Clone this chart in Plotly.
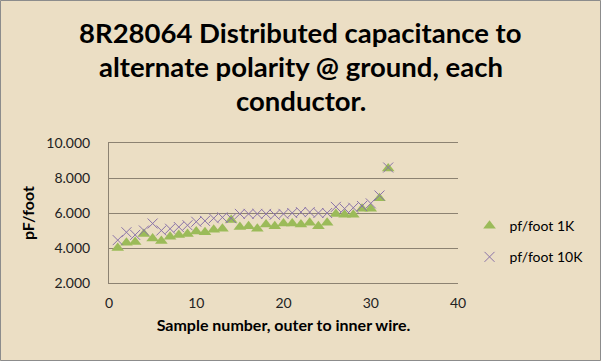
import plotly.graph_objects as go

samples = list(range(1, 33))
pf_1k = [4.0, 4.3, 4.35, 4.8, 4.55, 4.4, 4.65, 4.75, 4.8, 4.95, 4.9, 5.05, 5.1, 5.6, 5.2, 5.25,
         5.1, 5.35, 5.25, 5.4, 5.4, 5.35, 5.45, 5.25, 5.45, 5.95, 5.9, 5.9, 6.25, 6.25, 6.85, 8.55]
pf_10k = [4.45, 4.9, 4.75, 5.0, 5.4, 5.0, 5.1, 5.2, 5.3, 5.5, 5.55, 5.7, 5.75, 5.7, 5.95, 5.95,
          5.95, 5.95, 5.9, 5.95, 6.0, 6.05, 6.05, 6.0, 6.0, 6.35, 6.25, 6.3, 6.4, 6.55, 7.0, 8.6]
y_ticks = [2, 4, 6, 8, 10]
y_tick_labels = ["2.000", "4.000", "6.000", "8.000", "10.000"]
x_ticks = [0, 10, 20, 30, 40]
title_lines = ["8R28064 Distributed capacitance to", "alternate polarity @ ground, each", "conductor."]

bg = "#EBDEC4"
grid = "#8C8272"
font_family = "Lato, 'Open Sans', sans-serif"

W, H = 601, 361
L, R, T, B = 109, 143, 143, 78
PW, PH = W - L - R, H - T - B

fig = go.Figure()
fig.add_trace(go.Scatter(
    x=samples, y=pf_1k, mode="markers", name="pf/foot 1K", legendgroup="a",
    marker=dict(symbol="triangle-up", size=11, color="#9BBB59", line=dict(width=0)),
))
fig.add_trace(go.Scatter(
    x=samples, y=pf_10k, mode="markers", name="pf/foot 10K", legendgroup="b",
    marker=dict(symbol="x-thin", size=10, line=dict(width=1, color="#8A73A8"), color="#8A73A8"),
))

annotations = []
for py, line in zip([33, 67, 100], title_lines):
    annotations.append(dict(
        text=line, x=0.5, xref="paper", xanchor="center",
        y=(H - B - py) / PH, yref="paper", yanchor="middle",
        showarrow=False, xshift=(W / 2 - (L + PW / 2)),
        font=dict(size=27.5, family=font_family, weight="bold", color="#000000"),
    ))

fig.update_layout(
    width=W, height=H,
    margin=dict(l=L, r=R, t=T, b=B, autoexpand=False),
    paper_bgcolor=bg, plot_bgcolor=bg,
    font=dict(family=font_family, color="#000000", size=14),
    annotations=annotations,
    xaxis=dict(
        range=[0, 40], tickvals=x_ticks, showgrid=False, zeroline=False, automargin=False,
        showline=True, mirror=True, linecolor=grid, linewidth=1, ticks="", ticklabelstandoff=7,
        title=dict(text="Sample number, outer to inner wire.", font=dict(size=16, weight="bold"), standoff=10),
        tickfont=dict(size=14, color="#222222"),
    ),
    yaxis=dict(
        range=[2, 10], tickvals=y_ticks, ticktext=y_tick_labels, showgrid=True, automargin=False,
        gridcolor=grid, gridwidth=1, zeroline=False,
        showline=True, linecolor=grid, linewidth=1, ticks="", ticklabelstandoff=15,
        title=dict(text="pF/foot", font=dict(size=16, weight="bold"), standoff=7),
        tickfont=dict(size=14, color="#222222"),
    ),
    legend=dict(
        x=1.033, xanchor="left", y=0.521, yanchor="top", bgcolor="rgba(0,0,0,0)",
        font=dict(size=14), tracegroupgap=10, traceorder="grouped",
    ),
    shapes=[dict(type="rect", xref="paper", yref="paper", x0=-(L - 0.5) / PW, x1=1 + (R - 0.5) / PW,
                 y0=-(B - 0.5) / PH, y1=1 + (T - 0.5) / PH,
                 line=dict(color="#8C8C8C", width=1), fillcolor="rgba(0,0,0,0)")],
)

fig.write_html("out.html", config={"displayModeBar": False},
               post_script="document.body.style.margin='0';")
